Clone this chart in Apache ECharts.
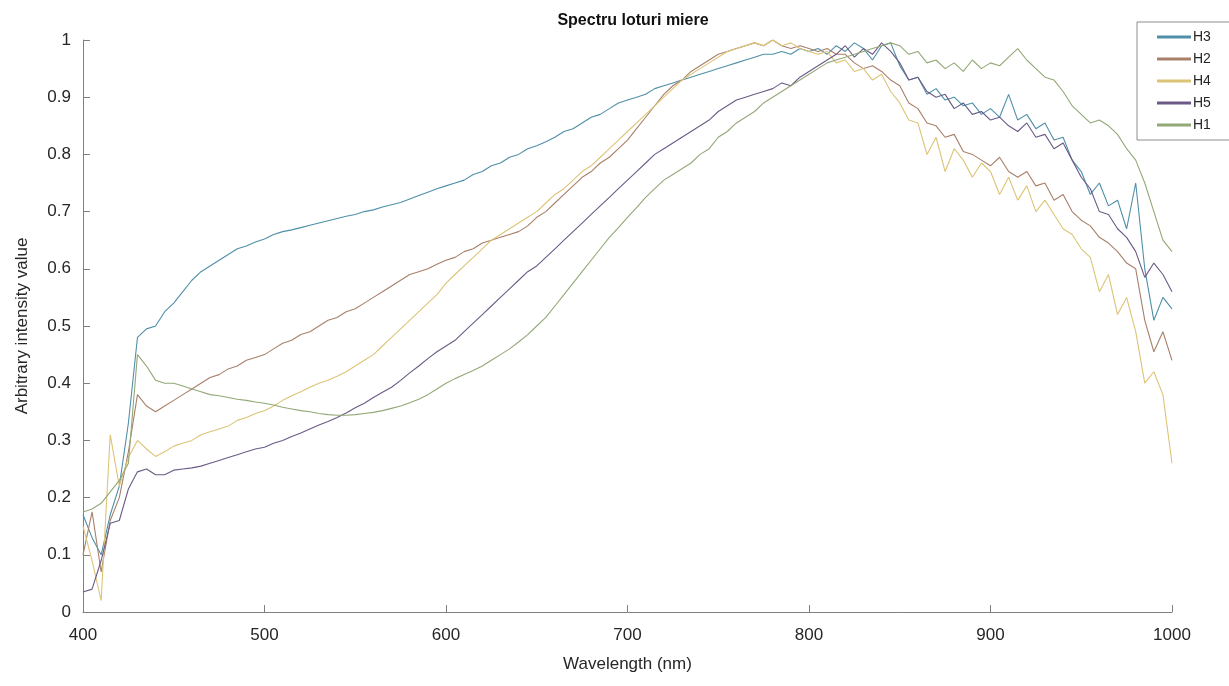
<!DOCTYPE html>
<html>
<head>
<meta charset="utf-8">
<script src="https://cdn.jsdelivr.net/npm/echarts@6/dist/echarts.min.js"></script>
<style>
  html, body { margin: 0; padding: 0; background: #fff; }
  #chart { width: 1229px; height: 686px; }
</style>
</head>
<body>
<div id="chart"></div>
<script>
const wavelengths = [
  400, 405, 410, 415, 420, 425, 430, 435, 440, 445,
  450, 455, 460, 465, 470, 475, 480, 485, 490, 495,
  500, 505, 510, 515, 520, 525, 530, 535, 540, 545,
  550, 555, 560, 565, 570, 575, 580, 585, 590, 595,
  600, 605, 610, 615, 620, 625, 630, 635, 640, 645,
  650, 655, 660, 665, 670, 675, 680, 685, 690, 695,
  700, 705, 710, 715, 720, 725, 730, 735, 740, 745,
  750, 755, 760, 765, 770, 775, 780, 785, 790, 795,
  800, 805, 810, 815, 820, 825, 830, 835, 840, 845,
  850, 855, 860, 865, 870, 875, 880, 885, 890, 895,
  900, 905, 910, 915, 920, 925, 930, 935, 940, 945,
  950, 955, 960, 965, 970, 975, 980, 985, 990, 995,
  1000
]

const h3 = [
  0.17, 0.13, 0.10, 0.17, 0.22, 0.33, 0.48, 0.495, 0.50, 0.525,
  0.54, 0.56, 0.58, 0.595, 0.605, 0.615, 0.625, 0.635, 0.64, 0.647,
  0.652, 0.66, 0.665, 0.668, 0.672, 0.676, 0.68, 0.684, 0.688, 0.692,
  0.695, 0.70, 0.703, 0.708, 0.712, 0.716, 0.722, 0.728, 0.734, 0.74,
  0.745, 0.75, 0.755, 0.765, 0.77, 0.78, 0.785, 0.795, 0.80, 0.81,
  0.815, 0.822, 0.83, 0.84, 0.845, 0.855, 0.865, 0.87, 0.88, 0.89,
  0.895, 0.90, 0.905, 0.915, 0.92, 0.925, 0.93, 0.935, 0.94, 0.945,
  0.95, 0.955, 0.96, 0.965, 0.97, 0.975, 0.975, 0.98, 0.975, 0.985,
  0.98, 0.985, 0.975, 0.99, 0.98, 0.995, 0.985, 0.965, 0.99, 0.995,
  0.955, 0.93, 0.935, 0.905, 0.915, 0.895, 0.90, 0.885, 0.89, 0.87,
  0.88, 0.865, 0.905, 0.86, 0.87, 0.845, 0.855, 0.825, 0.83, 0.79,
  0.77, 0.73, 0.75, 0.71, 0.72, 0.67, 0.75, 0.60, 0.51, 0.55,
  0.53
]

const h2 = [
  0.10, 0.175, 0.07, 0.16, 0.20, 0.28, 0.38, 0.36, 0.35, 0.36,
  0.37, 0.38, 0.39, 0.40, 0.41, 0.415, 0.425, 0.43, 0.44, 0.445,
  0.45, 0.46, 0.47, 0.475, 0.485, 0.49, 0.50, 0.51, 0.515, 0.525,
  0.53, 0.54, 0.55, 0.56, 0.57, 0.58, 0.59, 0.595, 0.60, 0.608,
  0.615, 0.62, 0.63, 0.635, 0.645, 0.65, 0.655, 0.66, 0.665, 0.675,
  0.69, 0.70, 0.715, 0.73, 0.745, 0.76, 0.77, 0.785, 0.795, 0.81,
  0.825, 0.845, 0.865, 0.885, 0.905, 0.92, 0.93, 0.945, 0.955, 0.965,
  0.975, 0.98, 0.985, 0.99, 0.995, 0.99, 1.0, 0.99, 0.985, 0.99,
  0.985, 0.98, 0.985, 0.975, 0.975, 0.96, 0.95, 0.955, 0.945, 0.93,
  0.92, 0.89, 0.88, 0.855, 0.85, 0.83, 0.835, 0.805, 0.80, 0.79,
  0.78, 0.795, 0.77, 0.76, 0.77, 0.745, 0.75, 0.72, 0.73, 0.70,
  0.685, 0.675, 0.655, 0.645, 0.63, 0.61, 0.60, 0.51, 0.455, 0.49,
  0.44
]

const h4 = [
  0.15, 0.09, 0.02, 0.31, 0.22, 0.27, 0.30, 0.285, 0.272, 0.28,
  0.29, 0.295, 0.30, 0.31, 0.315, 0.32, 0.325, 0.335, 0.34, 0.347,
  0.352, 0.36, 0.37, 0.378, 0.385, 0.393, 0.40, 0.405, 0.412, 0.42,
  0.43, 0.44, 0.45, 0.465, 0.48, 0.495, 0.51, 0.525, 0.54, 0.555,
  0.575, 0.59, 0.605, 0.62, 0.635, 0.65, 0.66, 0.67, 0.68, 0.69,
  0.70, 0.715, 0.73, 0.74, 0.755, 0.77, 0.78, 0.795, 0.81, 0.825,
  0.84, 0.855, 0.87, 0.885, 0.90, 0.915, 0.93, 0.94, 0.95, 0.96,
  0.97, 0.98, 0.985, 0.99, 0.995, 0.99, 1.0, 0.99, 0.995, 0.985,
  0.98, 0.975, 0.98, 0.96, 0.965, 0.945, 0.95, 0.93, 0.94, 0.91,
  0.89, 0.86, 0.855, 0.80, 0.83, 0.77, 0.81, 0.79, 0.76, 0.785,
  0.77, 0.73, 0.76, 0.72, 0.745, 0.70, 0.72, 0.695, 0.67, 0.66,
  0.635, 0.62, 0.56, 0.59, 0.52, 0.55, 0.49, 0.40, 0.42, 0.38,
  0.26
]

const h5 = [
  0.035, 0.04, 0.09, 0.155, 0.16, 0.215, 0.245, 0.25, 0.24, 0.24,
  0.248, 0.25, 0.252, 0.255, 0.26, 0.265, 0.27, 0.275, 0.28, 0.285,
  0.288, 0.295, 0.30, 0.307, 0.313, 0.32, 0.327, 0.333, 0.34, 0.348,
  0.357, 0.365, 0.375, 0.384, 0.393, 0.405, 0.418, 0.43, 0.443, 0.455,
  0.465, 0.475, 0.49, 0.505, 0.52, 0.535, 0.55, 0.565, 0.58, 0.595,
  0.605, 0.62, 0.635, 0.65, 0.665, 0.68, 0.695, 0.71, 0.725, 0.74,
  0.755, 0.77, 0.785, 0.80, 0.81, 0.82, 0.83, 0.84, 0.85, 0.86,
  0.875, 0.885, 0.895, 0.90, 0.905, 0.91, 0.915, 0.925, 0.92, 0.935,
  0.945, 0.955, 0.965, 0.975, 0.99, 0.97, 0.985, 0.975, 0.995, 0.98,
  0.96, 0.93, 0.935, 0.91, 0.90, 0.905, 0.88, 0.89, 0.87, 0.875,
  0.86, 0.865, 0.85, 0.84, 0.855, 0.83, 0.835, 0.81, 0.82, 0.79,
  0.76, 0.74, 0.70, 0.695, 0.67, 0.655, 0.63, 0.585, 0.61, 0.59,
  0.56
]

const h1 = [
  0.175, 0.18, 0.19, 0.21, 0.23, 0.26, 0.45, 0.43, 0.405, 0.40,
  0.40, 0.395, 0.39, 0.385, 0.38, 0.378, 0.375, 0.372, 0.37, 0.367,
  0.365, 0.362, 0.358, 0.355, 0.352, 0.35, 0.347, 0.345, 0.344, 0.344,
  0.345, 0.347, 0.349, 0.352, 0.356, 0.36, 0.366, 0.372, 0.38, 0.39,
  0.40, 0.408, 0.415, 0.422, 0.43, 0.44, 0.45, 0.46, 0.472, 0.485,
  0.50, 0.515, 0.535, 0.555, 0.575, 0.595, 0.615, 0.635, 0.655, 0.672,
  0.69, 0.707, 0.725, 0.74, 0.755, 0.765, 0.775, 0.785, 0.80, 0.81,
  0.83, 0.84, 0.855, 0.865, 0.875, 0.89, 0.90, 0.91, 0.92, 0.93,
  0.94, 0.95, 0.96, 0.965, 0.97, 0.975, 0.98, 0.985, 0.99, 0.995,
  0.99, 0.975, 0.98, 0.96, 0.965, 0.95, 0.96, 0.945, 0.965, 0.95,
  0.96, 0.955, 0.97, 0.985, 0.965, 0.95, 0.935, 0.93, 0.91, 0.885,
  0.87, 0.855, 0.86, 0.85, 0.835, 0.81, 0.79, 0.75, 0.70, 0.65,
  0.63
]

const seriesNames = ['H3', 'H2', 'H4', 'H5', 'H1']
const seriesValues = [h3, h2, h4, h5, h1]
const lineColors = ['#4f8fa8', '#a8806a', '#dcc476', '#6b5a86', '#93a877']
const yTicks = [0, 0.1, 0.2, 0.3, 0.4, 0.5, 0.6, 0.7, 0.8, 0.9, 1]

const chart = echarts.init(document.getElementById('chart'), null, { renderer: 'canvas' })

const axisGrey = '#808080'
const textDark = '#262626'
const font = '"Liberation Sans", Arial, sans-serif'

chart.setOption({
  backgroundColor: '#ffffff',
  animation: false,
  title: {
    text: 'Spectru loturi miere',
    left: 628,
    top: 8,
    textAlign: 'center',
    textStyle: { fontFamily: font, fontSize: 16, fontWeight: 'bold', color: '#111' }
  },
  legend: {
    data: seriesNames,
    orient: 'vertical',
    left: 1137,
    top: 22,
    padding: [8, 40, 8, 20],
    itemGap: 8,
    itemWidth: 34,
    itemHeight: 3,
    icon: 'rect',
    borderColor: '#8c8c8c',
    borderWidth: 1,
    textStyle: { fontFamily: font, fontSize: 14, color: textDark, padding: [0, 0, 0, -3] }
  },
  grid: { left: 83, right: 57, top: 40, bottom: 74, containLabel: false },
  xAxis: {
    type: 'value',
    min: 400,
    max: 1000,
    interval: 100,
    name: 'Wavelength (nm)',
    nameLocation: 'middle',
    nameGap: 44,
    nameTextStyle: { fontFamily: font, fontSize: 17, color: textDark },
    axisLine: { lineStyle: { color: axisGrey, width: 1 } },
    axisTick: { inside: true, length: 7, lineStyle: { color: axisGrey } },
    axisLabel: {
      fontFamily: font, fontSize: 17, color: textDark, margin: 15,
      formatter: v => String(v)
    },
    splitLine: { show: false }
  },
  yAxis: {
    type: 'value',
    min: 0,
    max: 1,
    interval: 0.1,
    name: 'Arbitrary intensity value',
    nameLocation: 'middle',
    nameGap: 52,
    nameTextStyle: { fontFamily: font, fontSize: 17, color: textDark },
    axisLine: { show: true, lineStyle: { color: axisGrey, width: 1 } },
    axisTick: { show: true, inside: true, length: 7, lineStyle: { color: axisGrey } },
    axisLabel: {
      fontFamily: font, fontSize: 17, color: textDark, margin: 12,
      formatter: v => {
        const t = yTicks.find(k => Math.abs(k - v) < 1e-6)
        return t === undefined ? '' : String(t)
      }
    },
    splitLine: { show: false }
  },
  series: seriesNames.map((name, i) => ({
    name,
    type: 'line',
    data: wavelengths.map((w, j) => [w, seriesValues[i][j]]),
    showSymbol: false,
    symbol: 'none',
    color: lineColors[i],
    lineStyle: { width: 1.1, color: lineColors[i] },
    z: 2
  }))
})
</script>
</body>
</html>
